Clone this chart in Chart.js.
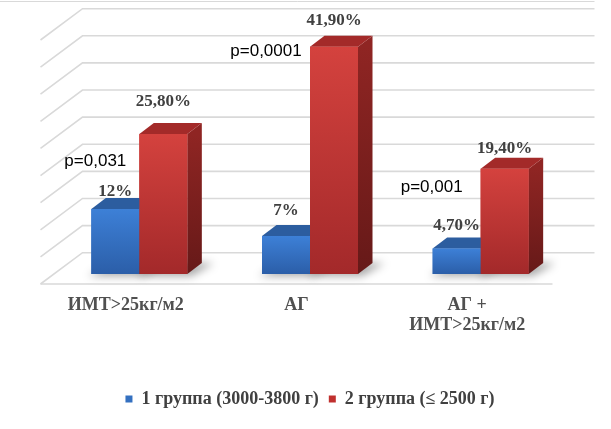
<!DOCTYPE html>
<html>
<head>
<meta charset="utf-8">
<script src="https://cdn.jsdelivr.net/npm/chart.js@4.4.1/dist/chart.umd.min.js"></script>
<style>
  html, body { margin: 0; padding: 0; background: #fff; overflow: hidden; }
  #wrap { width: 611px; height: 429px; }
</style>
</head>
<body>
<div id="wrap"><canvas id="chart"></canvas></div>
<script>
const categories = ['ИМТ>25кг/м2', 'АГ', ['АГ +', 'ИМТ>25кг/м2']];
const group1 = [12, 7, 4.7];
const group2 = [25.8, 41.9, 19.4];
const group1Labels = ['12%', '7%', '4,70%'];
const group2Labels = ['25,80%', '41,90%', '19,40%'];
const pValues = ['p=0,031', 'p=0,0001', 'p=0,001'];

// 3d look: depth of a bar, where the back wall and the front edge of the floor sit
const depth = { x: 14.5, y: -11 };
const wall = { x: 28.5, y: -21.3 };
const front = { x: -13.5, y: 10 };

const faces = [
  { top: '#2c5d9f', side: ['#244d86', '#1c3d6b'], front: ['#3d80d7', '#2b5ea8'] },
  { top: '#a32a29', side: ['#8f2523', '#661918'], front: ['#d4423e', '#a3292a'] }
];

function poly(ctx, pts, fill) {
  ctx.beginPath();
  ctx.moveTo(pts[0][0], pts[0][1]);
  for (let i = 1; i < pts.length; i++) ctx.lineTo(pts[i][0], pts[i][1]);
  ctx.closePath();
  ctx.fillStyle = fill;
  ctx.fill();
}

const box3d = {
  id: 'box3d',
  beforeDatasetsDraw(chart) {
    const ctx = chart.ctx, a = chart.chartArea, y = chart.scales.y;
    ctx.save();
    ctx.strokeStyle = '#d9d9d9';
    ctx.lineWidth = 1;
    ctx.beginPath();
    ctx.moveTo(0, 1.5); ctx.lineTo(a.right + wall.x, 1.5);
    ctx.stroke();
    ctx.lineWidth = 1.6;
    y.ticks.forEach(t => {
      const py = y.getPixelForValue(t.value);
      ctx.beginPath();
      ctx.moveTo(a.left + front.x, py + front.y);
      ctx.lineTo(a.left + wall.x, py + wall.y);
      ctx.lineTo(a.right + wall.x, py + wall.y);
      ctx.stroke();
    });
    const p0 = y.getPixelForValue(0);
    ctx.beginPath();
    ctx.moveTo(a.left + front.x, p0 + front.y);
    ctx.lineTo(a.right + front.x, p0 + front.y);
    ctx.stroke();
    ctx.restore();
  },
  afterDatasetsDraw(chart) {
    const ctx = chart.ctx;
    const metas = [chart.getDatasetMeta(0), chart.getDatasetMeta(1)];
    ctx.save();
    // soft shadow on the floor
    ctx.filter = 'blur(4px)';
    metas.forEach(m => m.data.forEach(el => {
      const { x, base, width } = el.getProps(['x', 'base', 'width'], true);
      const x0 = x - width / 2, x1 = x + width / 2;
      poly(ctx, [[x0 - 3, base + 2], [x1 + 4, base + 2],
        [x1 + depth.x + 12, base + depth.y], [x0 + depth.x + 6, base + depth.y]], 'rgba(0,0,0,0.35)');
    }));
    ctx.filter = 'none';
    for (let i = 0; i < categories.length; i++) {
      metas.forEach((m, d) => {
        const el = m.data[i];
        const { x, y, base, width } = el.getProps(['x', 'y', 'base', 'width'], true);
        const x0 = x - width / 2, x1 = x + width / 2;
        const f = faces[d];
        let g = ctx.createLinearGradient(0, y, 0, base);
        g.addColorStop(0, f.side[0]); g.addColorStop(1, f.side[1]);
        poly(ctx, [[x1, y], [x1 + depth.x, y + depth.y], [x1 + depth.x, base + depth.y], [x1, base]], g);
        poly(ctx, [[x0, y], [x0 + depth.x, y + depth.y], [x1 + depth.x, y + depth.y], [x1, y]], f.top);
        g = ctx.createLinearGradient(0, y, 0, base);
        g.addColorStop(0, f.front[0]); g.addColorStop(1, f.front[1]);
        poly(ctx, [[x0, y], [x1, y], [x1, base], [x0, base]], g);
      });
    }
    // value labels
    const opts = chart.options.plugins.box3d;
    ctx.font = 'bold 17px "Liberation Serif"';
    ctx.fillStyle = '#404040';
    ctx.textAlign = 'center';
    ctx.textBaseline = 'middle';
    const texts = [group1Labels, group2Labels];
    metas.forEach((m, d) => m.data.forEach((el, i) => {
      const { x, y } = el.getProps(['x', 'y'], true);
      ctx.fillText(texts[d][i], x, y - opts.lift[d][i]);
    }));
    // p-values
    ctx.font = '17px "Liberation Sans"';
    ctx.fillStyle = '#000';
    const xs = chart.scales.x, ys = chart.scales.y;
    pValues.forEach((p, i) => {
      ctx.fillText(p, xs.getPixelForValue(i) + opts.pShift[i], ys.getPixelForValue(opts.pAt[i]));
    });
    ctx.restore();
  }
};

new Chart(document.getElementById('chart'), {
  type: 'bar',
  data: {
    labels: categories,
    datasets: [
      { label: '1 группа (3000-3800 г)', data: group1, backgroundColor: '#3470c0' },
      { label: '2 группа (≤ 2500 г)', data: group2, backgroundColor: '#c0302e' }
    ]
  },
  options: {
    responsive: true,
    maintainAspectRatio: false,
    animation: false,
    categoryPercentage: 0.5625,
    barPercentage: 1,
    layout: { padding: { left: 54, right: 45, top: 30, bottom: 11 } },
    scales: {
      y: { display: false, min: 0, max: 45, ticks: { stepSize: 5 } },
      x: {
        grid: { display: false, drawTicks: false },
        border: { display: false },
        ticks: {
          color: '#505050',
          font: { family: '"Liberation Serif"', size: 18, weight: 'bold', lineHeight: 1.11 },
          padding: 21,
          labelOffset: -13.5,
          maxRotation: 0,
          autoSkip: false
        },
        afterFit: s => { s.height = 106; }
      }
    },
    plugins: {
      legend: {
        position: 'bottom',
        labels: {
          boxWidth: 7,
          boxHeight: 7,
          padding: 10,
          color: '#404040',
          font: { family: '"Liberation Serif"', size: 18, weight: 'bold' }
        }
      },
      tooltip: { enabled: false },
      box3d: {
        lift: [[17, 25.5, 22.5], [32, 26, 20.5]],
        pAt: [20.8, 41, 16],
        pShift: [-44, -44, -49]
      }
    }
  },
  plugins: [box3d]
});
</script>
</body>
</html>
